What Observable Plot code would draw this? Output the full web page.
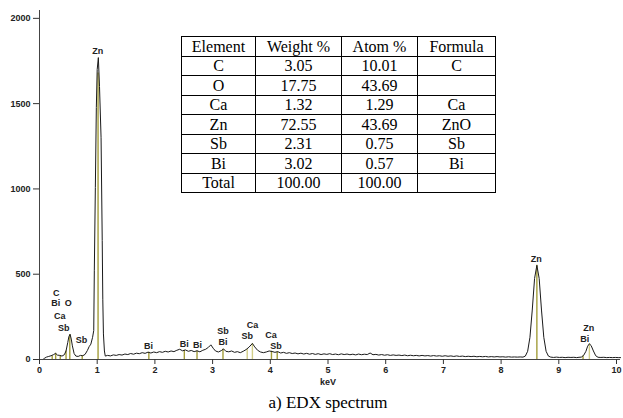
<!DOCTYPE html>
<html><head><meta charset="utf-8">
<script src="https://cdn.jsdelivr.net/npm/d3@7"></script>
<script src="https://cdn.jsdelivr.net/npm/@observablehq/plot@0.6"></script>
<style>
body{margin:0;background:#fff;width:623px;height:418px;overflow:hidden;position:relative;font-family:"Liberation Sans",Arial,sans-serif;}
#chart{position:absolute;left:0;top:0;}
#tbl{position:absolute;left:181px;top:36px;border-collapse:collapse;font-family:"Liberation Serif","Times New Roman",serif;font-size:16px;color:#000;background:#fff;}
#tbl td{border:1px solid #000;height:18.5px;padding:0;text-align:center;line-height:17px;}
#caption{position:absolute;left:0;width:656px;top:393px;text-align:center;font-family:"Liberation Serif","Times New Roman",serif;font-size:17px;color:#000;}
</style>
</head><body>
<div id="chart"></div>
<table id="tbl"></table>
<div id="caption">a) EDX spectrum</div>
<script>
// Spectrum (keV, counts)
const keV = [0,0.06,0.09,0.12,0.16,0.2,0.24,0.28,0.31,0.35,0.39,0.43,0.46,0.49,0.51,0.53,0.55,0.57,0.6,0.63,0.67,0.71,0.75,0.79,0.83,0.86,0.89,0.92,0.94,0.95,0.968,0.985,1.0,1.02,1.04,1.067,1.087,1.097,1.108,1.125,1.14,
1.18,1.23,1.28,1.33,1.38,1.43,1.48,1.53,1.58,1.63,1.68,1.73,1.78,1.83,1.88,1.93,1.98,2.03,2.08,2.13,2.18,2.23,2.28,2.33,2.38,2.43,2.48,2.53,2.58,2.63,2.68,2.73,2.78,2.83,2.88,2.93,2.97,3.01,3.05,3.10,3.15,3.19,3.23,3.28,3.33,3.38,3.43,3.48,3.53,3.58,3.63,3.69,3.73,3.78,3.83,3.88,3.93,3.98,4.03,4.08,4.13,4.18,4.23,4.28,4.33,4.38,4.43,4.48,4.53,4.58,4.63,4.68,4.73,4.78,4.83,4.88,4.93,4.98,5.03,5.08,5.13,5.18,5.23,5.28,5.33,5.38,5.43,5.48,5.53,5.58,5.63,5.68,5.73,5.78,5.83,5.88,5.93,5.98,6.03,6.08,6.13,6.18,6.23,6.28,6.33,6.38,6.43,6.48,6.53,6.58,6.63,6.68,6.73,6.78,6.83,6.88,6.93,6.98,7.03,7.08,7.13,7.18,7.23,7.28,7.33,7.38,7.43,7.48,7.53,7.58,7.63,7.68,7.73,7.78,7.83,7.88,7.93,7.98,8.03,8.08,8.13,8.18,8.23,8.28,8.33,8.38,
8.42,8.46,8.50,8.54,8.58,8.62,8.66,8.70,8.74,8.78,8.82,8.86,8.91,8.96,9.01,9.06,9.11,9.16,9.21,9.26,9.31,9.35,
9.39,9.43,9.47,9.50,9.53,9.56,9.60,9.64,9.68,9.73,9.78,9.83,9.88,9.93,9.98,10.03,10.07];
const counts = [0,0,8,14,18,22,28,36,26,24,20,28,50,100,135,148,120,80,35,20,18,24,22,30,53,75,90,130,170,520,1008,1477,1700,1770,1600,1300,697,350,150,50,20,
24,21,27,24,29,26,32,29,35,31,37,34,40,36,43,38,44,40,46,42,48,44,50,46,54,60,51,56,48,53,46,51,45,54,60,72,86,66,50,44,52,62,48,45,50,42,46,40,48,58,72,94,74,54,44,40,44,50,47,42,46,38,42,36,40,35,38,33,37,32,36,31,35,30,34,29,33,30,34,29,32,28,33,29,32,28,31,27,32,28,31,29,38,28,30,26,29,25,28,24,27,24,26,23,26,22,25,22,24,21,24,21,23,20,23,20,22,19,22,19,21,18,21,18,20,17,19,17,19,16,18,16,18,15,17,15,17,15,16,14,16,14,15,14,15,14,
20,48,130,290,475,552,475,290,130,48,20,14,12,14,12,13,11,13,12,13,11,13,
14,24,48,78,92,82,50,22,13,12,13,11,12,11,12,11,11];

// Element marker lines (keV, height, shade)
const markerKeV = [0.22,0.28,0.36,0.46,0.525,0.74,1.015,1.895,2.51,2.73,3.18,3.60,3.69,4.02,4.12,8.62,9.42,9.53];
const markerTop = [20,36,24,50,145,22,1680,43,54,50,60,60,94,48,44,552,20,92];
const markerShade = ["d","d","d","d","d","d","d","d","d","d","d","l","l","d","d","d","d","l"];

// Peak labels
const labelText = ["C","Bi","O","Ca","Sb","Sb","Zn","Bi","Bi","Bi","Sb","Bi","Ca","Sb","Ca","Sb","Zn","Zn","Bi"];
const labelKeV  = [0.29,0.28,0.50,0.35,0.42,0.73,1.01,1.89,2.51,2.74,3.18,3.18,3.69,3.60,4.01,4.10,8.61,9.52,9.45];
const labelCnt  = [389,328,328,252,182,111,1807,80,92,85,165,101,199,135,143,80,590,186,117];

const xTicks = [0,1,2,3,4,5,6,7,8,9,10];
const yTicks = [0,500,1000,1500,2000];

// Table
const tableHeaders = ["Element","Weight %","Atom %","Formula"];
const elements = ["C","O","Ca","Zn","Sb","Bi","Total"];
const weightPct = ["3.05","17.75","1.32","72.55","2.31","3.02","100.00"];
const atomPct = ["10.01","43.69","1.29","43.69","0.75","0.57","100.00"];
const formula = ["C","","Ca","ZnO","Sb","Bi",""];

const spectrum = keV.map((k,i)=>({k, c: counts[i]}));
const markers = markerKeV.map((k,i)=>({k, top: markerTop[i], s: markerShade[i]}));
const labels = labelText.map((t,i)=>({t, k: labelKeV[i], c: labelCnt[i]}));

const chart = Plot.plot({
  width: 623, height: 393,
  marginLeft: 39, marginRight: 7, marginTop: 10, marginBottom: 34,
  style: {fontFamily: "'Liberation Sans', Arial, sans-serif", color: "#333", background: "#fff"},
  x: {domain: [0, 10]},
  y: {domain: [0, 2046]},
  marks: [
    Plot.ruleX(markers, {x: "k", y1: 0, y2: "top", stroke: d => d.s === "l" ? "#d2ce88" : "#a39d3a", strokeWidth: 1.4}),
    Plot.line(spectrum, {x: "k", y: "c", stroke: "#1a1a1a", strokeWidth: 1}),
    Plot.ruleY([0], {x1: -0.1, x2: 10.07, stroke: "#444"}),
    Plot.ruleX([0], {y1: 0, y2: 2046, stroke: "#444"}),
    Plot.axisX(xTicks, {tickSize: 5, tickPadding: 2, fontSize: 9, fontWeight: "bold", label: null, tickFormat: d3.format("d"), stroke: "#333", fill: "#222"}),
    Plot.axisY(yTicks, {tickSize: 6, tickPadding: 3, fontSize: 9, fontWeight: "bold", label: null, tickFormat: d3.format("d"), stroke: "#333", fill: "#222"}),
    Plot.text(["keV"], {frameAnchor: "bottom", dy: 25, fontSize: 9, fontWeight: "bold", fill: "#222"}),
    Plot.text(labels, {x: "k", y: "c", text: "t", fontSize: 9, fontWeight: "bold", fill: "#222", lineAnchor: "middle"})
  ]
});
document.getElementById("chart").appendChild(chart);

const tbl = document.getElementById("tbl");
const widths = [73, 85, 75, 77];
const hr = tbl.insertRow();
tableHeaders.forEach((h,i)=>{const c=hr.insertCell(); c.textContent=h; c.style.width=widths[i]+"px";});
elements.forEach((e,i)=>{
  const r = tbl.insertRow();
  [e, weightPct[i], atomPct[i], formula[i]].forEach(v=>{const c=r.insertCell(); c.textContent=v;});
});
</script>
</body></html>
